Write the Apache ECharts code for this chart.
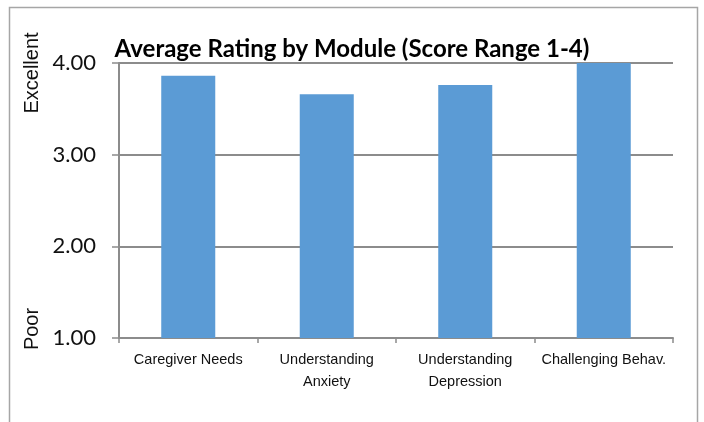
<!DOCTYPE html>
<html><head><meta charset="utf-8">
<script src="https://cdn.jsdelivr.net/npm/echarts@6/dist/echarts.min.js"></script>
<style>html,body{margin:0;padding:0;background:#fff}#c{width:704px;height:422px}</style>
</head><body><div id="c"></div>
<script>
const categories = ['Caregiver Needs', 'Understanding\nAnxiety', 'Understanding\nDepression', 'Challenging Behav.'];
const values = [3.86, 3.66, 3.76, 4.00];
const yTicks = [1, 2, 3, 4];
const titleText = 'Average Rating by Module (Score Range 1-4)';
const topLabel = 'Excellent';
const bottomLabel = 'Poor';

const chart = echarts.init(document.getElementById('c'));
chart.setOption({
  animation: false,
  backgroundColor: '#fff',
  title: {
    text: titleText, left: 'center', top: 32,
    textStyle: { fontFamily: 'Lato', fontWeight: 'bold', fontSize: 24, color: '#000' }
  },
  graphic: [
    { type: 'rect', shape: { x: 9.5, y: 7.5, width: 688, height: 430 }, style: { fill: 'none', stroke: '#a6a6a6', lineWidth: 1.5 }, silent: true },
    { type: 'text', x: 22, y: 73, rotation: Math.PI / 2, style: { text: topLabel, font: '20px "Liberation Sans"', fill: '#111', align: 'center', verticalAlign: 'top' } },
    { type: 'text', x: 22, y: 329, rotation: Math.PI / 2, style: { text: bottomLabel, font: '20px "Liberation Sans"', fill: '#111', align: 'center', verticalAlign: 'top' } }
  ],
  grid: { left: 119, right: 31, top: 63, bottom: 84 },
  xAxis: {
    type: 'category', data: categories,
    axisLine: { lineStyle: { color: '#8c8c8c', width: 2 } },
    axisTick: { show: true, length: 5, lineStyle: { color: '#8c8c8c', width: 1.5 } },
    axisLabel: { fontFamily: 'Liberation Sans', fontSize: 14.5, color: '#111', margin: 11, lineHeight: 22, interval: 0 }
  },
  yAxis: {
    type: 'value', min: yTicks[0], max: yTicks[yTicks.length - 1], interval: 1,
    axisLine: { show: true, lineStyle: { color: '#8c8c8c', width: 2 } },
    axisTick: { show: true, inside: false, length: 7, lineStyle: { color: '#8c8c8c', width: 1.5 } },
    splitLine: { lineStyle: { color: '#8c8c8c', width: 2 } },
    axisLabel: { fontFamily: 'Lato', fontSize: 22, color: '#111', margin: 23, formatter: v => v.toFixed(2) }
  },
  series: [{
    type: 'bar', data: values, barWidth: '39%',
    itemStyle: { color: '#5b9bd5' }
  }]
});
</script></body></html>
